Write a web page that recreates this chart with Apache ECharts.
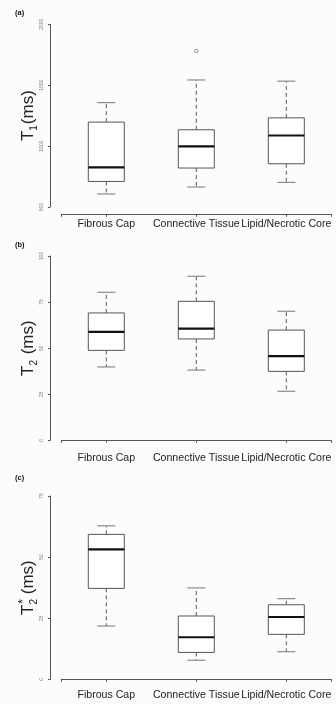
<!DOCTYPE html>
<html><head><meta charset="utf-8">
<script src="https://cdn.jsdelivr.net/npm/echarts@6/dist/echarts.min.js"></script>
<style>html,body{margin:0;padding:0;background:#fcfcfc}#c{width:336px;height:704px}</style>
</head><body><div id="c"></div>
<script>
var categories = ['Fibrous Cap', 'Connective Tissue', 'Lipid/Necrotic Core'];
// [min, Q1, median, Q3, max] per category
var t1Stats = [[607, 710, 825, 1197, 1357], [664, 820, 997, 1134, 1543], [702, 855, 1087, 1232, 1533]];
var t1Outliers = [[2, 1781]];
var t2Stats = [[39.8, 48.8, 58.8, 69.1, 80.3], [38.1, 55.0, 60.6, 75.4, 89.0], [26.6, 37.4, 45.7, 59.8, 70.0]];
var t2sStats = [[21.8, 37.2, 53.2, 59.3, 62.8], [7.8, 11.0, 17.2, 25.9, 37.4], [11.3, 18.4, 25.5, 30.5, 33.0]];
var t1Ticks = [500, 2000, 500];
var t2Ticks = [0, 100, 25];
var t2sTicks = [0, 75, 25];

var FONT = '"Liberation Sans", Arial, Helvetica, sans-serif';

function toData(stats) {
  return stats.map(function (s, i) { return [i + 1].concat(s); });
}

function renderBox(params, api) {
  var x = api.value(0);
  var lo = api.coord([x, api.value(1)]);
  var q1 = api.coord([x, api.value(2)]);
  var md = api.coord([x, api.value(3)]);
  var q3 = api.coord([x, api.value(4)]);
  var hi = api.coord([x, api.value(5)]);
  var bw = api.size([0.4, 0])[0];
  var cw = bw / 2;
  var cx = lo[0];
  var dashStyle = { stroke: '#555', lineWidth: 1, lineDash: [4, 3] };
  var capStyle = { stroke: '#8a8a8a', lineWidth: 1.2 };
  return {
    type: 'group',
    children: [
      { type: 'line', shape: { x1: cx, y1: q3[1], x2: cx, y2: hi[1] }, style: dashStyle },
      { type: 'line', shape: { x1: cx, y1: q1[1], x2: cx, y2: lo[1] }, style: dashStyle },
      { type: 'line', shape: { x1: cx - cw / 2, y1: hi[1], x2: cx + cw / 2, y2: hi[1] }, style: capStyle },
      { type: 'line', shape: { x1: cx - cw / 2, y1: lo[1], x2: cx + cw / 2, y2: lo[1] }, style: capStyle },
      { type: 'rect', shape: { x: cx - bw / 2, y: q3[1], width: bw, height: q1[1] - q3[1] },
        style: { fill: '#fff', stroke: '#555', lineWidth: 1 } },
      { type: 'line', shape: { x1: cx - bw / 2, y1: md[1], x2: cx + bw / 2, y2: md[1] },
        style: { stroke: '#111', lineWidth: 2.2 } }
    ]
  };
}

var grids = [
  { left: 61.3, width: 270, top: 24.3, height: 182.7 },
  { left: 61.3, width: 270, top: 256, height: 184.3 },
  { left: 61.3, width: 270, top: 496, height: 183.3 }
];
var xOffsets = [7.3, 8, 6.4];
var ticks = [t1Ticks, t2Ticks, t2sTicks];
var names = [
  '{a|T}{s|1}{a|(ms)}',
  '{a|T}{s|2}{a| (ms)}',
  '{a|T}{s|2}{p|*}{a| (ms)}'
];
var richName = {
  a: { fontSize: 17, fontFamily: FONT, color: '#222', lineHeight: 20, verticalAlign: 'bottom' },
  s: { fontSize: 10, fontFamily: FONT, color: '#222', lineHeight: 20, verticalAlign: 'bottom', padding: [0, 1, -2, 0] },
  p: { fontSize: 13, fontFamily: FONT, color: '#222', lineHeight: 20, verticalAlign: 'bottom', padding: [0, 0, 7, -6] }
};

var xAxes = [], yAxes = [], series = [];
for (var i = 0; i < 3; i++) {
  // value axis: line and ticks
  xAxes.push({
    gridIndex: i, type: 'value', position: 'bottom', min: 0.5, max: 3.5, offset: xOffsets[i],
    axisLine: { lineStyle: { color: '#555', width: 1 } },
    axisTick: { show: true, length: 2.5, inside: false, customValues: [0.5, 1, 2, 3, 3.5], lineStyle: { color: '#555' } },
    axisLabel: { show: false },
    splitLine: { show: false }
  });
  // category axis: labels only
  xAxes.push({
    gridIndex: i, type: 'category', position: 'bottom', data: categories, boundaryGap: true, offset: xOffsets[i],
    axisLine: { show: false }, axisTick: { show: false }, splitLine: { show: false },
    axisLabel: { interval: 0, fontSize: 10.6, fontFamily: FONT, color: '#222', margin: 4 }
  });
  yAxes.push({
    gridIndex: i, type: 'value', min: ticks[i][0], max: ticks[i][1], interval: ticks[i][2], offset: 11.3,
    axisLine: { show: true, lineStyle: { color: '#555', width: 1 } },
    axisTick: { show: true, length: 2, lineStyle: { color: '#555' } },
    axisLabel: { rotate: 90, fontSize: 5, fontFamily: FONT, color: '#777', margin: 6,
      formatter: function (v) { return String(v); } },
    splitLine: { show: false },
    name: names[i], nameLocation: 'middle', nameRotate: 90, nameGap: 13, nameMoveOverlap: false,
    nameTextStyle: { rich: richName }
  });
}
var allStats = [t1Stats, t2Stats, t2sStats];
for (var j = 0; j < 3; j++) {
  series.push({
    type: 'custom', xAxisIndex: 2 * j, yAxisIndex: j, renderItem: renderBox,
    encode: { x: 0, y: [1, 2, 3, 4, 5] }, data: toData(allStats[j]), silent: true
  });
}
series.push({
  type: 'scatter', xAxisIndex: 0, yAxisIndex: 0, data: t1Outliers, symbol: 'circle', symbolSize: 3.5,
  itemStyle: { color: '#fff', borderColor: '#666', borderWidth: 0.9 }, silent: true
});

var chart = echarts.init(document.getElementById('c'), null, { renderer: 'canvas' });
chart.setOption({
  backgroundColor: '#fcfcfc',
  animation: false,
  grid: grids,
  xAxis: xAxes,
  yAxis: yAxes,
  series: series,
  graphic: [
    { type: 'text', left: 15, top: 9, style: { text: '(a)', fontSize: 7.5, fontWeight: 'bold', fontFamily: FONT, fill: '#111' } },
    { type: 'text', left: 15, top: 241, style: { text: '(b)', fontSize: 7.5, fontWeight: 'bold', fontFamily: FONT, fill: '#111' } },
    { type: 'text', left: 15, top: 474, style: { text: '(c)', fontSize: 7.5, fontWeight: 'bold', fontFamily: FONT, fill: '#111' } }
  ]
});
</script></body></html>
